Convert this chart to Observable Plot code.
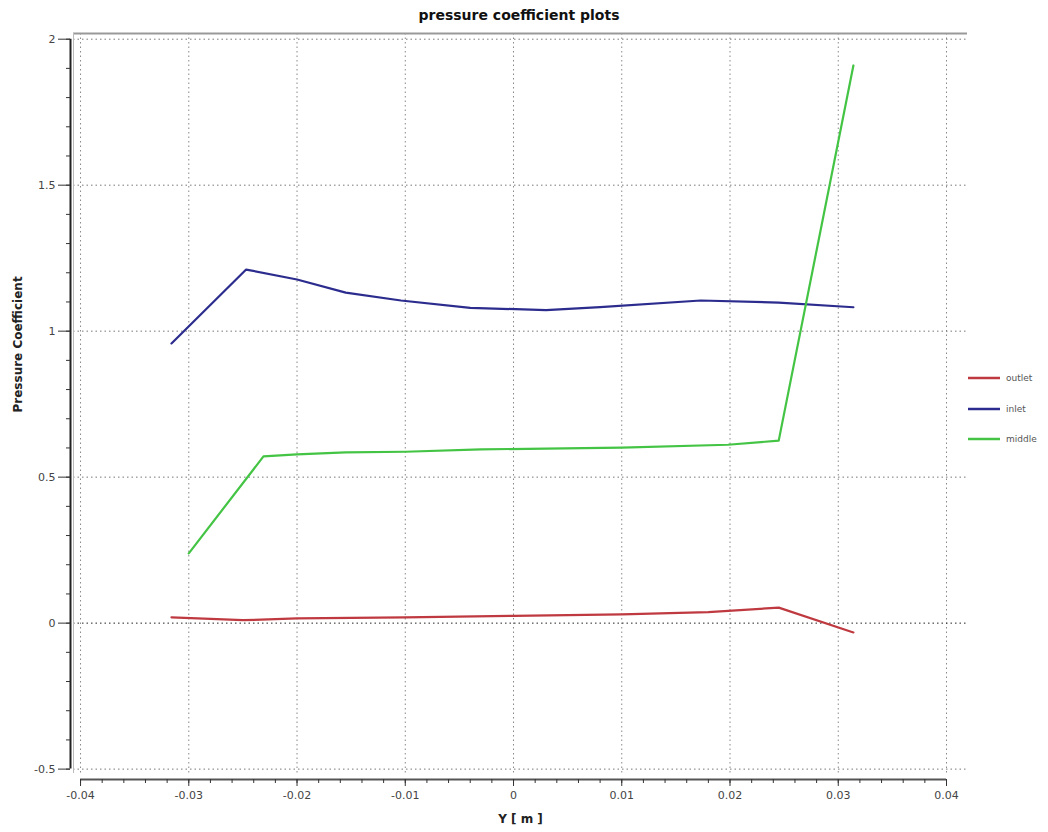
<!DOCTYPE html>
<html>
<head>
<meta charset="utf-8">
<script src="https://cdn.jsdelivr.net/npm/d3@7"></script>
<script src="https://cdn.jsdelivr.net/npm/@observablehq/plot@0.6"></script>
<style>
  body { margin: 0; background: #fff; font-family: "DejaVu Sans", sans-serif; }
  #wrap { position: relative; width: 1048px; height: 832px; }
  #title { position: absolute; left: 0; top: 0; width: 1038px; height: 28px; line-height: 30px;
           text-align: center; font-weight: bold; font-size: 14px; color: #111; }
  #chart { position: absolute; left: 0; top: 28px; }
  #legend { position: absolute; left: 968px; top: 363px; font-size: 9px; color: #555; }
  .item { display: flex; align-items: center; height: 30.5px; }
  .item svg { margin-right: 6px; }
</style>
</head>
<body>
<div id="wrap">
  <div id="title">pressure coefficient plots</div>
  <div id="chart"></div>
  <div id="legend"></div>
</div>
<script>
// ---- data ----
const seriesNames = ["outlet", "inlet", "middle"];
const seriesColors = ["#bf3a40", "#2c2c8e", "#44c444"];

const outletX = [-0.0316, -0.025, -0.02, -0.01, 0, 0.01, 0.018, 0.0245, 0.0314];
const outletY = [0.020, 0.010, 0.016, 0.020, 0.025, 0.030, 0.038, 0.053, -0.032];

const inletX = [-0.0316, -0.0247, -0.02, -0.0155, -0.0104, -0.004, 0.003, 0.008, 0.0173, 0.0245, 0.0314];
const inletY = [0.958, 1.211, 1.177, 1.132, 1.105, 1.080, 1.072, 1.082, 1.105, 1.098, 1.082];

const middleX = [-0.0300, -0.0231, -0.02, -0.0155, -0.01, -0.003, 0.003, 0.01, 0.0198, 0.0245, 0.0314];
const middleY = [0.239, 0.571, 0.578, 0.585, 0.587, 0.595, 0.598, 0.601, 0.611, 0.625, 1.91];

const xMajor = [-0.04, -0.03, -0.02, -0.01, 0, 0.01, 0.02, 0.03, 0.04];
const xMinor = d3.range(-40, 41, 2).map(d => d / 1000);
const yMajor = [-0.5, 0, 0.5, 1, 1.5, 2];
const yMinor = d3.range(-5, 21, 1).map(d => d / 10);
const xDomain = [-0.04065, 0.04194];
const yDomain = [-0.515, 2.0195];

// ---- table ----
const table = [];
[[outletX, outletY], [inletX, inletY], [middleX, middleY]].forEach(([xs, ys], i) => {
  xs.forEach((x, j) => table.push({ series: seriesNames[i], x, y: ys[j] }));
});

const fmt = d => String(+d.toFixed(2));

const chart = Plot.plot({
  width: 1048,
  height: 804,
  marginTop: 5,
  marginLeft: 73,
  marginRight: 81,
  marginBottom: 59,
  x: { domain: xDomain },
  y: { domain: yDomain },
  color: { domain: seriesNames, range: seriesColors },
  style: { fontFamily: "DejaVu Sans, sans-serif", fontSize: "11px", color: "#444", background: "white" },
  marks: [
    Plot.gridX(xMajor, { stroke: "#888", strokeOpacity: 1, strokeDasharray: "1.5,3" }),
    Plot.gridY(yMajor.filter(d => d !== 0), { stroke: "#777", strokeOpacity: 1, strokeDasharray: "1.5,3" }),
    Plot.gridY([0], { stroke: "#222", strokeOpacity: 1, strokeDasharray: "1.5,3" }),
    // frame top & left
    Plot.ruleY([yDomain[1]], { stroke: "#999", strokeWidth: 2 }),
    Plot.ruleX([xDomain[0]], { stroke: "#bbb", strokeWidth: 1 }),
    // axis lines
    Plot.ruleY([yDomain[0]], { x1: () => xMajor[0], x2: () => xMajor[xMajor.length - 1], dy: 6, stroke: "#555", strokeWidth: 2 }),
    Plot.ruleX([xDomain[0]], { y1: () => yMajor[0], y2: () => yMajor[yMajor.length - 1], dx: -3, stroke: "#222", strokeWidth: 2 }),
    // ticks
    Plot.axisX(xMinor, { tickSize: 4, dy: 6, tickFormat: () => "", label: null, stroke: "#333" }),
    Plot.axisX(xMajor, { tickSize: 7, dy: 6, tickPadding: 5, tickFormat: fmt, label: null, stroke: "#333" }),
    Plot.axisY(yMinor, { tickSize: 4, dx: -3, tickFormat: () => "", label: null, stroke: "#333" }),
    Plot.axisY(yMajor, { tickSize: 12, dx: -3, tickPadding: 3, tickFormat: fmt, label: null, stroke: "#333" }),
    // data
    Plot.line(table, { x: "x", y: "y", z: "series", stroke: "series", strokeWidth: 2.2 }),
    // axis titles
    Plot.text(["Y [ m ]"], { text: d => d, frameAnchor: "bottom", dy: 49, fontWeight: "bold", fontSize: 12, fill: "#222" }),
    Plot.text(["Pressure Coefficient"], { text: d => d, frameAnchor: "left", dx: -55, dy: 9, rotate: -90, fontWeight: "bold", fontSize: 12, fill: "#222" })
  ]
});
document.getElementById("chart").appendChild(chart);

// ---- legend ----
const legend = document.getElementById("legend");
seriesNames.forEach((name, i) => {
  const div = document.createElement("div");
  div.className = "item";
  div.innerHTML = `<svg width="32" height="6"><line x1="0" x2="32" y1="3" y2="3" stroke="${seriesColors[i]}" stroke-width="2.5"/></svg><span>${name}</span>`;
  legend.appendChild(div);
});
</script>
</body>
</html>
